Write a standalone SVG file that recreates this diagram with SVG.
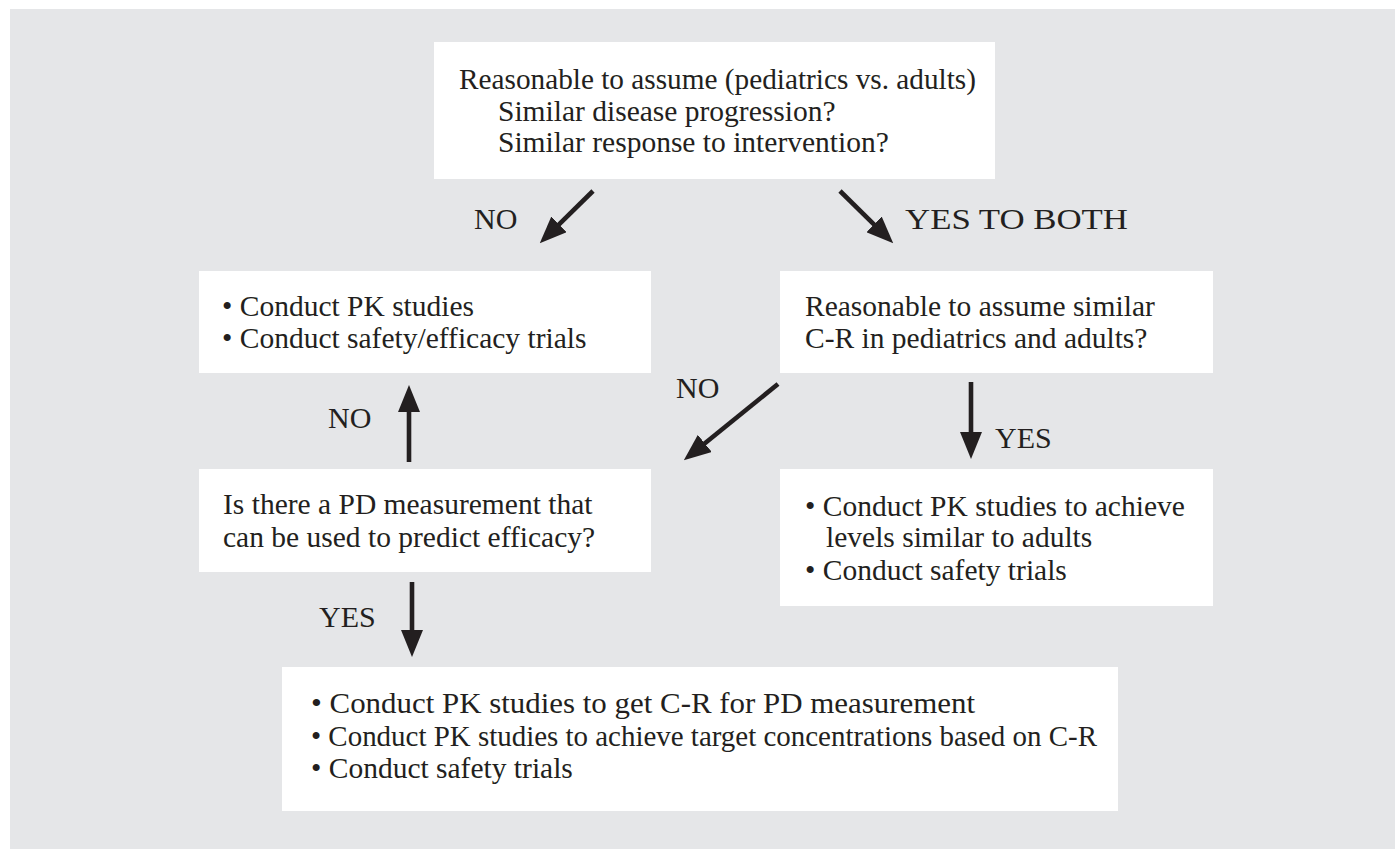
<svg xmlns="http://www.w3.org/2000/svg" width="1395" height="849" viewBox="0 0 1395 849">
  <style>
    .bg { fill: #e5e6e8; }
    .box { fill: #ffffff; }
    .t { font-family: "Liberation Serif", "Times New Roman", serif; font-size: 29.5px; fill: #231f20; }
    .lbl { font-family: "Liberation Serif", "Times New Roman", serif; font-size: 30px; fill: #231f20; }
    .conn { stroke: #231f20; stroke-width: 4.6; fill: none; marker-end: url(#head); }
  </style>
  <defs>
    <marker id="head" markerUnits="userSpaceOnUse" viewBox="0 0 27 22" markerWidth="27" markerHeight="22" refX="1" refY="11" orient="auto">
      <path d="M0,0 L27,11 L0,22 z" fill="#231f20"/>
    </marker>
  </defs>
  <rect width="1395" height="849" fill="#ffffff"/>
  <rect class="bg" x="10" y="9" width="1385" height="840"/>

  <g id="node-start">
    <rect class="box" x="434" y="42" width="561" height="137"/>
    <text class="t" x="459" y="89" textLength="517" lengthAdjust="spacingAndGlyphs">Reasonable to assume (pediatrics vs. adults)</text>
    <text class="t" x="498" y="121">Similar disease progression?</text>
    <text class="t" x="498" y="152">Similar response to intervention?</text>
  </g>

  <g id="node-pk-efficacy">
    <rect class="box" x="199" y="271" width="452" height="102"/>
    <text class="t" x="222" y="316">• Conduct PK studies</text>
    <text class="t" x="222" y="348">• Conduct safety/efficacy trials</text>
  </g>

  <g id="node-cr">
    <rect class="box" x="780" y="271" width="433" height="102"/>
    <text class="t" x="805" y="316">Reasonable to assume similar</text>
    <text class="t" x="805" y="348">C-R in pediatrics and adults?</text>
  </g>

  <g id="node-pd">
    <rect class="box" x="199" y="469" width="452" height="103"/>
    <text class="t" x="223" y="514">Is there a PD measurement that</text>
    <text class="t" x="223" y="547">can be used to predict efficacy?</text>
  </g>

  <g id="node-pk-levels">
    <rect class="box" x="780" y="469" width="433" height="137"/>
    <text class="t" x="805" y="516">• Conduct PK studies to achieve</text>
    <text class="t" x="826" y="547">levels similar to adults</text>
    <text class="t" x="805" y="580">• Conduct safety trials</text>
  </g>

  <g id="node-pk-cr">
    <rect class="box" x="282" y="667" width="836" height="144"/>
    <text class="t" x="311" y="713" textLength="664" lengthAdjust="spacingAndGlyphs">• Conduct PK studies to get C-R for PD measurement</text>
    <text class="t" x="311" y="746" textLength="786" lengthAdjust="spacingAndGlyphs">• Conduct PK studies to achieve target concentrations based on C-R</text>
    <text class="t" x="311" y="778">• Conduct safety trials</text>
  </g>

  <g id="connectors">
    <line class="conn" x1="593" y1="191" x2="558.3" y2="225.1"/>
    <line class="conn" x1="840" y1="191" x2="874.7" y2="225.1"/>
    <line class="conn" x1="778" y1="384" x2="704" y2="444"/>
    <line class="conn" x1="971" y1="382" x2="971" y2="433"/>
    <line class="conn" x1="409" y1="462" x2="409" y2="411"/>
    <line class="conn" x1="412" y1="582" x2="412" y2="631"/>
    <text class="lbl" x="474" y="229">NO</text>
    <text class="lbl" x="905" y="229" textLength="223" lengthAdjust="spacingAndGlyphs">YES TO BOTH</text>
    <text class="lbl" x="676" y="398">NO</text>
    <text class="lbl" x="328" y="428">NO</text>
    <text class="lbl" x="319" y="627">YES</text>
    <text class="lbl" x="995" y="448">YES</text>
  </g>
</svg>
